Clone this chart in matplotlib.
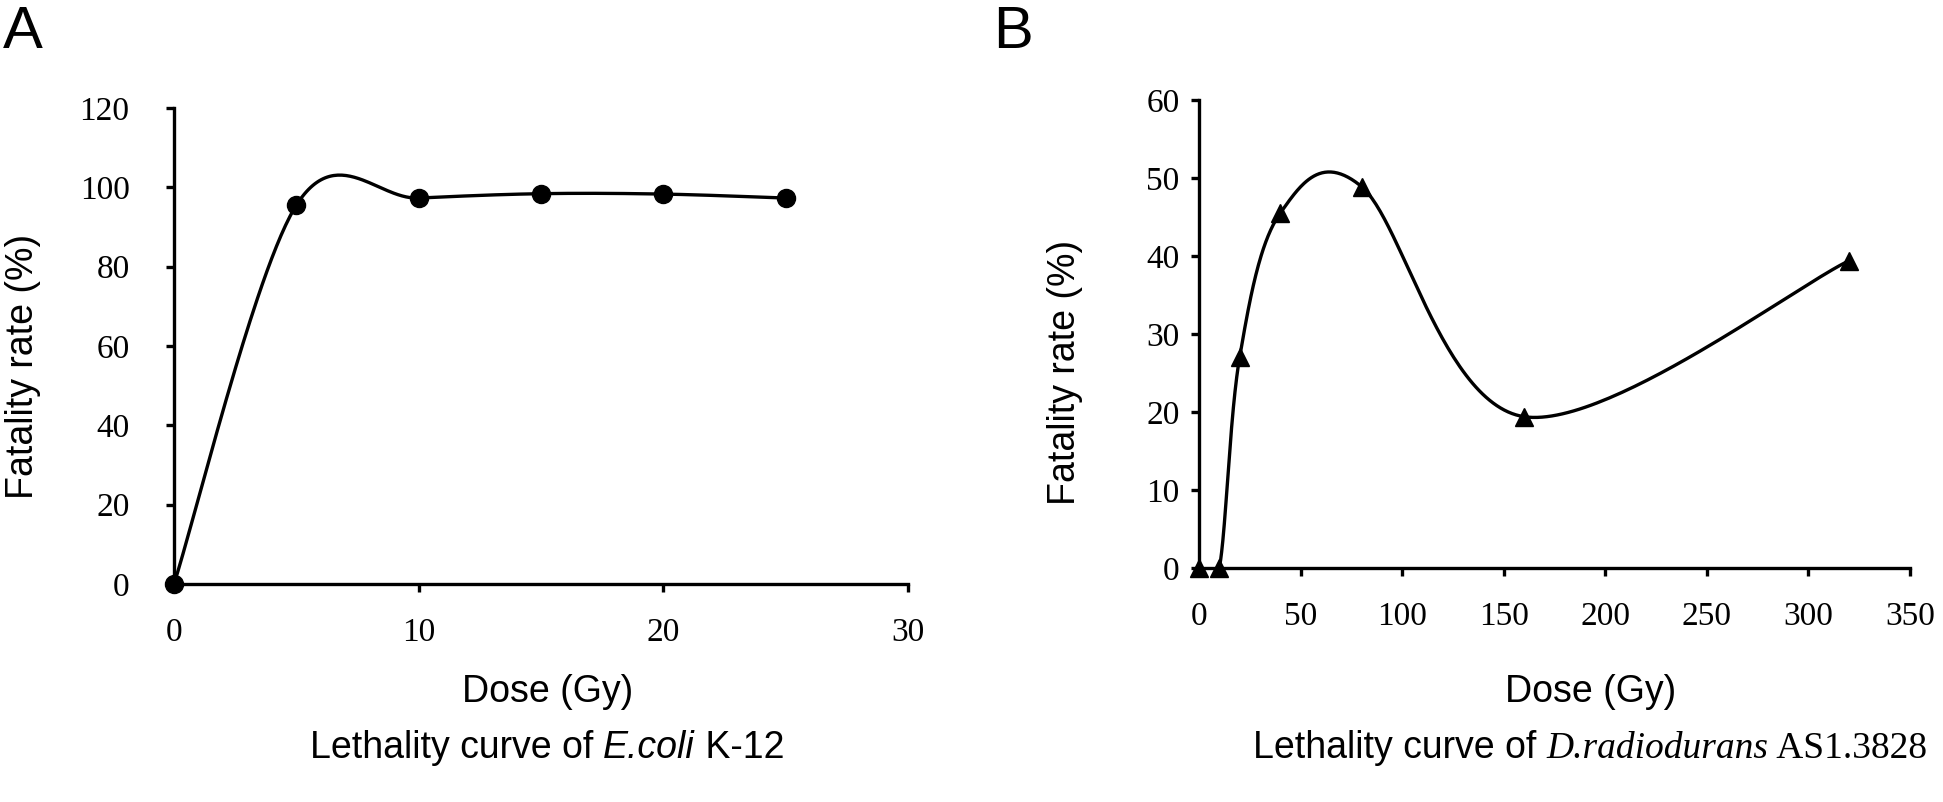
import numpy as np
import matplotlib
matplotlib.use("Agg")
import matplotlib.pyplot as plt

# Panel A: E.coli K-12
doseA = [0, 5, 10, 15, 20, 25]
fatalA = [0, 95.5, 97.3, 98.4, 98.3, 97.3]

# Panel B: D.radiodurans AS1.3828
doseB = [0, 10, 20, 40, 80, 160, 320]
fatalB = [0, 0, 27.0, 45.5, 48.9, 19.4, 39.4]

xticksA = [0, 10, 20, 30]
yticksA = [0, 20, 40, 60, 80, 100, 120]
xticksB = [0, 50, 100, 150, 200, 250, 300, 350]
yticksB = [0, 10, 20, 30, 40, 50, 60]

SANS = "Liberation Sans"
SERIF = "Liberation Serif"
W, H = 1943, 802


def smooth_line(x, y, n=60):
    # excel-like smoothed line: cubic bezier with catmull-rom control points
    x = np.asarray(x, float)
    y = np.asarray(y, float)
    px = np.concatenate([[x[0]], x, [x[-1]]])
    py = np.concatenate([[y[0]], y, [y[-1]]])
    t = np.linspace(0, 1, n)[:, None]
    outx, outy = [], []
    for i in range(1, len(px) - 2):
        p0 = np.array([px[i], py[i]])
        p3 = np.array([px[i + 1], py[i + 1]])
        c1 = p0 + (p3 - np.array([px[i - 1], py[i - 1]])) / 6
        c2 = p3 - (np.array([px[i + 2], py[i + 2]]) - p0) / 6
        pts = ((1 - t) ** 3) * p0 + 3 * ((1 - t) ** 2) * t * c1 + 3 * (1 - t) * t ** 2 * c2 + t ** 3 * p3
        outx.extend(pts[:, 0])
        outy.extend(pts[:, 1])
    return outx, outy


def fx(px):
    return px / W


def fy(py):
    return 1 - py / H


def setup_axes(ax, xlim, ylim, xticks, yticks, ypad):
    ax.set_xlim(*xlim)
    ax.set_ylim(*ylim)
    ax.set_xticks(xticks)
    ax.set_yticks(yticks)
    for s in ["top", "right"]:
        ax.spines[s].set_visible(False)
    for s in ["left", "bottom"]:
        ax.spines[s].set_linewidth(2.4)
    ax.tick_params(direction="out", length=6, width=2.4)
    ax.tick_params(axis="x", pad=18)
    ax.tick_params(axis="y", pad=ypad)
    for lab in ax.get_xticklabels() + ax.get_yticklabels():
        lab.set_fontfamily(SERIF)
        lab.set_fontsize(24)


def rich_text(fig, xc, yb, parts, size):
    texts = []
    for s, props in parts:
        texts.append(fig.text(0, yb, s, fontsize=size, va="baseline", ha="left", **props))
    r = fig.canvas.get_renderer()
    widths = [t.get_window_extent(r).width / W for t in texts]
    x = xc - sum(widths) / 2
    for t, w in zip(texts, widths):
        t.set_x(x)
        x += w


fig = plt.figure(figsize=(W / 100, H / 100), dpi=100)

axA = fig.add_axes([fx(174), fy(584), fx(908) - fx(174), fy(108) - fy(584)])
sx, sy = smooth_line(doseA, fatalA)
axA.plot(sx, sy, color="black", lw=2.4, clip_on=False)
axA.plot(doseA, fatalA, "o", color="black", ms=13, clip_on=False)
setup_axes(axA, (0, 30), (0, 120), xticksA, yticksA, 26)

axB = fig.add_axes([fx(1199), fy(568), fx(1910) - fx(1199), fy(100) - fy(568)])
sx, sy = smooth_line(doseB, fatalB)
axB.plot(sx, sy, color="black", lw=2.4)
axB.plot(doseB, fatalB, "^", color="black", ms=13, clip_on=False)
setup_axes(axB, (0, 350), (0, 60), xticksB, yticksB, 8)

# panel letters
fig.text(fx(3), fy(48), "A", fontsize=43, family=SANS, va="baseline", ha="left")
fig.text(fx(993), fy(48), "B", fontsize=43, family=SANS, va="baseline", ha="left")

# axis labels
fig.text(fx(23), fy(366), "Fatality rate (%)", fontsize=27, family=SANS,
         rotation=90, va="center", ha="center")
fig.text(fx(1065), fy(372), "Fatality rate (%)", fontsize=27, family=SANS,
         rotation=90, va="center", ha="center")
fig.text(fx(548), fy(702), "Dose (Gy)", fontsize=27, family=SANS, va="baseline", ha="center")
fig.text(fx(1591), fy(702), "Dose (Gy)", fontsize=27, family=SANS, va="baseline", ha="center")

# titles with mixed fonts
rich_text(fig, fx(547), fy(758), [
    ("Lethality curve of ", dict(family=SANS)),
    ("E.coli", dict(family=SANS, style="italic")),
    (" K-12", dict(family=SANS)),
], 27)
rich_text(fig, fx(1590), fy(758), [
    ("Lethality curve of ", dict(family=SANS)),
    ("D.radiodurans", dict(family=SERIF, style="italic")),
    (" AS1.3828", dict(family=SERIF)),
], 27)

fig.savefig("out.png", dpi=100)
